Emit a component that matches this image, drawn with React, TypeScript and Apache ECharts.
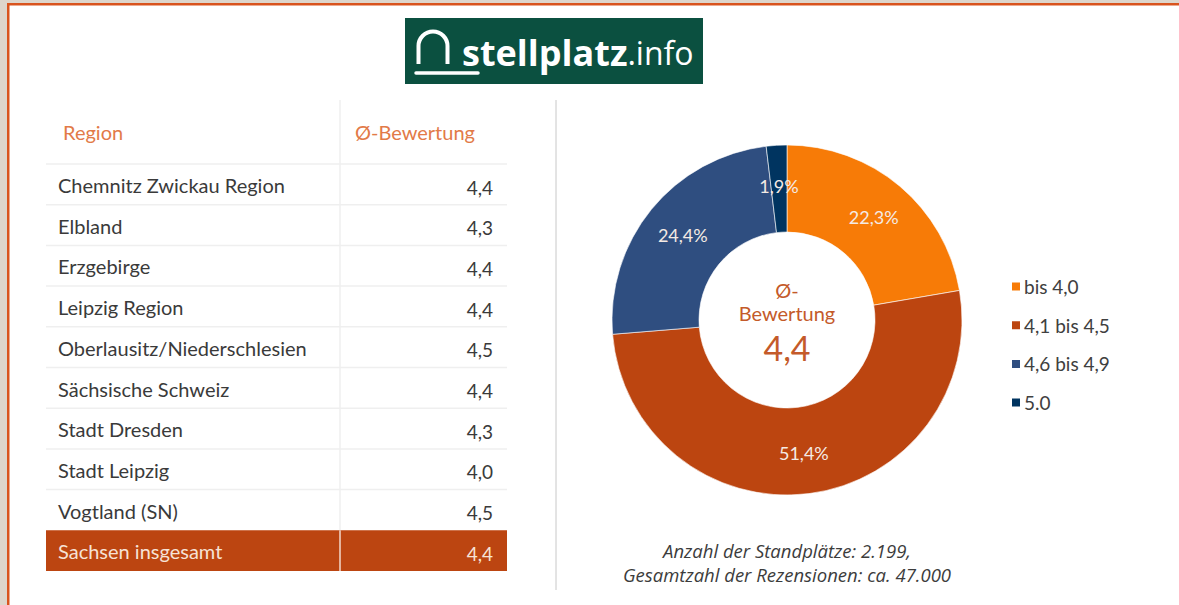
import React, { useEffect, useRef } from "react";
import * as echarts from "echarts";

const regions = [
  "Chemnitz Zwickau Region",
  "Elbland",
  "Erzgebirge",
  "Leipzig Region",
  "Oberlausitz/Niederschlesien",
  "Sächsische Schweiz",
  "Stadt Dresden",
  "Stadt Leipzig",
  "Vogtland (SN)",
  "Sachsen insgesamt",
];
const ratings = ["4,4", "4,3", "4,4", "4,4", "4,5", "4,4", "4,3", "4,0", "4,5", "4,4"];
const tableHeaders = ["Region", "Ø-Bewertung"];

const pieCategories = ["bis 4,0", "4,1 bis 4,5", "4,6 bis 4,9", "5.0"];
const pieShares = [22.3, 51.4, 24.4, 1.9];
const pieColors = ["#F77B07", "#BC4510", "#2F4E80", "#003460"];

const centerLines = ["Ø-", "Bewertung", "4,4"];
const footerLines = ["Anzahl der Standplätze: 2.199,", "Gesamtzahl der Rezensionen: ca. 47.000"];
const logoParts = ["stellplatz", ".info"];

export default function App() {
  const ref = useRef<HTMLDivElement>(null);
  useEffect(() => {
    document.body.style.margin = "0";
    const chart = echarts.init(ref.current!, null, { renderer: "svg" });
    const font = "Lato, 'Noto Sans', sans-serif";
    const tableX0 = 46;
    const tableX1 = 507;
    const colX = 340;
    const rowTop0 = 164;
    const rowH = 40.7;
    const g: any[] = [];

    // page frame
    g.push({ type: "rect", shape: { x: 0, y: 0, width: 1179, height: 605 }, style: { fill: "#DED6CC" }, z: 0 });
    g.push({ type: "rect", shape: { x: 7, y: 3, width: 1172, height: 602 }, style: { fill: "#D9541E" }, z: 0 });
    g.push({ type: "rect", shape: { x: 9.5, y: 5.5, width: 1170, height: 600 }, style: { fill: "#FFFFFF" }, z: 0 });

    // logo
    g.push({ type: "rect", shape: { x: 405, y: 18, width: 298, height: 66 }, style: { fill: "#0B5040" }, z: 1 });
    g.push({ type: "arc", shape: { cx: 433, cy: 46, r: 14.5, startAngle: Math.PI, endAngle: Math.PI * 2 }, style: { stroke: "#fff", lineWidth: 4, fill: "none" }, z: 2 });
    g.push({ type: "line", shape: { x1: 418.5, y1: 46, x2: 418.5, y2: 64 }, style: { stroke: "#fff", lineWidth: 4 }, z: 2 });
    g.push({ type: "line", shape: { x1: 447.5, y1: 46, x2: 447.5, y2: 64 }, style: { stroke: "#fff", lineWidth: 4 }, z: 2 });
    g.push({ type: "line", shape: { x1: 416, y1: 73, x2: 478, y2: 73 }, style: { stroke: "#fff", lineWidth: 3.5, lineCap: "round" }, z: 2 });
    g.push({
      type: "text",
      x: 462,
      y: 52,
      style: {
        text: `{b|${logoParts[0]}}{r|${logoParts[1]}}`,
        fill: "#fff",
        verticalAlign: "middle",
        textAlign: "left",
        rich: {
          b: { fontFamily: "'Open Sans', sans-serif", fontWeight: "bold", fontSize: 36, fill: "#fff" },
          r: { fontFamily: "'Open Sans', sans-serif", fontWeight: "normal", fontSize: 32, fill: "#fff" },
        },
      },
      z: 2,
    });

    // table header
    g.push({ type: "text", x: 63, y: 132, style: { text: tableHeaders[0], fill: "#E27A48", font: `20px ${font}`, verticalAlign: "middle" }, z: 2 });
    g.push({ type: "text", x: 355, y: 132, style: { text: tableHeaders[1], fill: "#E27A48", font: `20px ${font}`, verticalAlign: "middle" }, z: 2 });
    g.push({ type: "line", shape: { x1: colX, y1: 100, x2: colX, y2: rowTop0 + rowH * (regions.length - 1) }, style: { stroke: "#EFEFEF", lineWidth: 1.5 }, z: 1 });

    regions.forEach((name, i) => {
      const top = rowTop0 + i * rowH;
      const last = i === regions.length - 1;
      if (last) {
        g.push({ type: "rect", shape: { x: tableX0, y: top, width: tableX1 - tableX0, height: rowH }, style: { fill: "#BC4511" }, z: 1 });
        g.push({ type: "line", shape: { x1: colX, y1: top, x2: colX, y2: top + rowH }, style: { stroke: "#F3D9CC", lineWidth: 1.5 }, z: 2 });
      } else {
        g.push({ type: "line", shape: { x1: tableX0, y1: top, x2: tableX1, y2: top }, style: { stroke: "#EFEFEF", lineWidth: 1.5 }, z: 1 });
      }
      g.push({ type: "text", x: 58, y: top + 21, style: { text: name, fill: last ? "#F6E2D6" : "#3A3A3A", font: `20px ${font}`, verticalAlign: "middle" }, z: 3 });
      g.push({ type: "text", x: 493, y: top + 23, style: { text: ratings[i], fill: last ? "#F6E2D6" : "#3A3A3A", font: `19px ${font}`, verticalAlign: "middle", textAlign: "right" }, z: 3 });
    });

    // divider
    g.push({ type: "line", shape: { x1: 556, y1: 100, x2: 556, y2: 590 }, style: { stroke: "#C8C8C8", lineWidth: 1 }, z: 1 });

    // donut center text
    g.push({ type: "text", x: 787, y: 290, style: { text: centerLines[0], fill: "#C45A2A", font: `20px ${font}`, verticalAlign: "middle", textAlign: "center" }, z: 3 });
    g.push({ type: "text", x: 787, y: 313, style: { text: centerLines[1], fill: "#C45A2A", font: `20px ${font}`, verticalAlign: "middle", textAlign: "center" }, z: 3 });
    g.push({ type: "text", x: 787, y: 347, style: { text: centerLines[2], fill: "#C45A2A", font: `34px ${font}`, verticalAlign: "middle", textAlign: "center" }, z: 3 });

    // footer
    footerLines.forEach((t, i) => {
      g.push({ type: "text", x: 787, y: 550 + i * 24.5, style: { text: t, fill: "#3C3C3C", font: `italic 18.5px 'Open Sans', sans-serif`, verticalAlign: "middle", textAlign: "center" }, z: 3 });
    });

    chart.setOption({
      animation: false,
      color: pieColors,
      graphic: { elements: g },
      legend: {
        orient: "vertical",
        left: 1005,
        top: 272,
        icon: "rect",
        itemWidth: 10,
        itemHeight: 10,
        itemGap: 19.7,
        textStyle: { fontSize: 19, color: "#404040", fontFamily: font, padding: [0, 0, 0, -2] },
        data: pieCategories,
      },
      series: [
        {
          type: "pie",
          center: [787, 320],
          radius: [88, 175],
          startAngle: 90,
          clockwise: true,
          z: 2,
          label: {
            show: true,
            position: "inside",
            color: "#F4EAE4",
            fontSize: 18,
            fontFamily: font,
            formatter: (p: any) => p.value.toFixed(1).replace(".", ",") + "%",
          },
          labelLine: { show: false },
          itemStyle: { borderColor: "#ffffff", borderWidth: 0.6 },
          emphasis: { disabled: true },
          data: pieCategories.map((name, i) => ({ name, value: pieShares[i] })),
        },
      ],
    });
    return () => chart.dispose();
  }, []);
  return <div ref={ref} style={{ width: 1179, height: 605 }} />;
}
